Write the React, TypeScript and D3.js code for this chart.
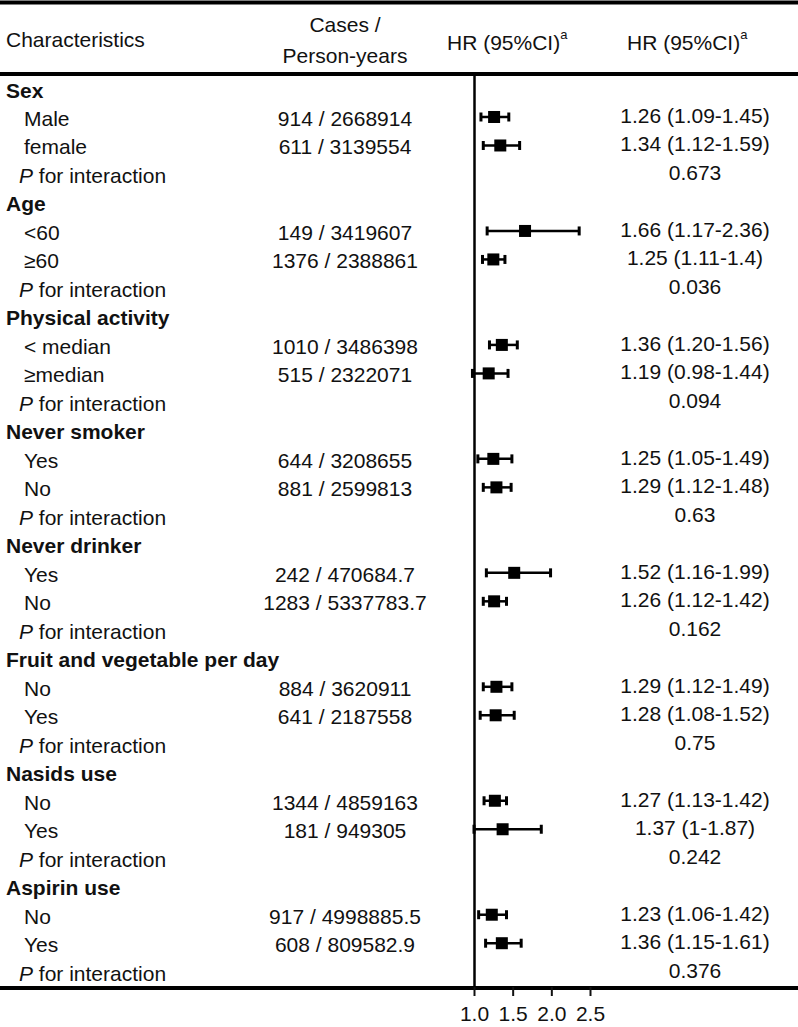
import React, { useEffect, useRef } from 'react';
import * as d3 from 'd3';

// subgroup forest plot data
const groupNames = ['Sex', 'Age', 'Physical activity', 'Never smoker', 'Never drinker',
  'Fruit and vegetable per day', 'Nasids use', 'Aspirin use'];
const subLabels = [['Male', 'female'], ['<60', '≥60'], ['< median', '≥median'], ['Yes', 'No'],
  ['Yes', 'No'], ['No', 'Yes'], ['No', 'Yes'], ['No', 'Yes']];
const casesText = [
  ['914 / 2668914', '611 / 3139554'],
  ['149 / 3419607', '1376 / 2388861'],
  ['1010 / 3486398', '515 / 2322071'],
  ['644 / 3208655', '881 / 2599813'],
  ['242 / 470684.7', '1283 / 5337783.7'],
  ['884 / 3620911', '641 / 2187558'],
  ['1344 / 4859163', '181 / 949305'],
  ['917 / 4998885.5', '608 / 809582.9'],
];
const hrEst = [[1.26, 1.34], [1.66, 1.25], [1.36, 1.19], [1.25, 1.29], [1.52, 1.26], [1.29, 1.28], [1.27, 1.37], [1.23, 1.36]];
const hrLow = [[1.09, 1.12], [1.17, 1.11], [1.20, 0.98], [1.05, 1.12], [1.16, 1.12], [1.12, 1.08], [1.13, 1.0], [1.06, 1.15]];
const hrHigh = [[1.45, 1.59], [2.36, 1.4], [1.56, 1.44], [1.49, 1.48], [1.99, 1.42], [1.49, 1.52], [1.42, 1.87], [1.42, 1.61]];
const hrText = [
  ['1.26 (1.09-1.45)', '1.34 (1.12-1.59)'],
  ['1.66 (1.17-2.36)', '1.25 (1.11-1.4)'],
  ['1.36 (1.20-1.56)', '1.19 (0.98-1.44)'],
  ['1.25 (1.05-1.49)', '1.29 (1.12-1.48)'],
  ['1.52 (1.16-1.99)', '1.26 (1.12-1.42)'],
  ['1.29 (1.12-1.49)', '1.28 (1.08-1.52)'],
  ['1.27 (1.13-1.42)', '1.37 (1-1.87)'],
  ['1.23 (1.06-1.42)', '1.36 (1.15-1.61)'],
];
const pInteraction = ['0.673', '0.036', '0.094', '0.63', '0.162', '0.75', '0.242', '0.376'];
const tickValues = [1.0, 1.5, 2.0, 2.5];

const W = 798, H = 1027;
const FONT = '"Liberation Sans", Arial, sans-serif';
const FS = 21;

export default function App() {
  const axisRef = useRef<SVGGElement>(null);

  const x = d3.scaleLinear().domain([1, 2.5]).range([474, 590]);
  const yRow = d3.scaleLinear().domain([0, 31]).range([90, 973.2]);
  const casesX = 345;
  const hrX = 695;
  const box = 12;
  const cap = 9;
  const bottomY = 988;

  useEffect(() => {
    const g = d3.select(axisRef.current);
    g.selectAll('*').remove();
    const axis = d3.axisBottom(x)
      .tickValues(tickValues)
      .tickFormat(d3.format('.1f'))
      .tickSize(9)
      .tickPadding(10);
    g.call(axis);
    g.select('.domain').remove();
    g.selectAll('line').attr('stroke', '#111').attr('stroke-width', 2);
    g.selectAll('text')
      .attr('fill', '#111')
      .style('font-family', FONT)
      .style('font-size', FS + 'px');
  }, []);

  const rows: JSX.Element[] = [];
  groupNames.forEach((name, gi) => {
    const base = gi * 4;
    rows.push(
      <text key={'g' + gi} x={6} y={yRow(base)} dominantBaseline="central" fontWeight="bold">{name}</text>
    );
    subLabels[gi].forEach((lab, si) => {
      const yy = yRow(base + 1 + si);
      const ym = yy - 1.5;
      rows.push(
        <g key={'s' + gi + '-' + si}>
          <text x={24} y={yy} dominantBaseline="central">{lab}</text>
          <text x={casesX} y={yy} dominantBaseline="central" textAnchor="middle">{casesText[gi][si]}</text>
          <text x={hrX} y={yy - 3} dominantBaseline="central" textAnchor="middle">{hrText[gi][si]}</text>
          <line x1={x(hrLow[gi][si])} x2={x(hrHigh[gi][si])} y1={ym} y2={ym} stroke="#000" strokeWidth={2.5} />
          <line x1={x(hrLow[gi][si])} x2={x(hrLow[gi][si])} y1={ym - cap / 2} y2={ym + cap / 2} stroke="#000" strokeWidth={3} />
          <line x1={x(hrHigh[gi][si])} x2={x(hrHigh[gi][si])} y1={ym - cap / 2} y2={ym + cap / 2} stroke="#000" strokeWidth={3} />
          <rect x={x(hrEst[gi][si]) - box / 2} y={ym - box / 2} width={box} height={box} fill="#000" />
        </g>
      );
    });
    const yp = yRow(base + 3);
    rows.push(
      <g key={'p' + gi}>
        <text x={19} y={yp} dominantBaseline="central">
          <tspan fontStyle="italic">P</tspan> for interaction
        </text>
        <text x={hrX} y={yp - 3} dominantBaseline="central" textAnchor="middle">{pInteraction[gi]}</text>
      </g>
    );
  });

  return (
    <>
      <style>{`body{margin:0}`}</style>
      <svg width={W} height={H} style={{ display: 'block', background: '#fff' }}
        fontFamily={FONT} fontSize={FS} fill="#111">
        {/* header */}
        <line x1={0} x2={W} y1={2.5} y2={2.5} stroke="#000" strokeWidth={4} />
        <text x={6} y={39.5} dominantBaseline="central">Characteristics</text>
        <text x={casesX} y={24} dominantBaseline="central" textAnchor="middle">Cases /</text>
        <text x={casesX} y={55} dominantBaseline="central" textAnchor="middle">Person-years</text>
        <text x={447} y={42} dominantBaseline="central">
          HR (95%CI)<tspan fontSize={13} dy={-8}>a</tspan>
        </text>
        <text x={627} y={42} dominantBaseline="central">
          HR (95%CI)<tspan fontSize={13} dy={-8}>a</tspan>
        </text>
        <line x1={0} x2={W} y1={74} y2={74} stroke="#000" strokeWidth={4} />

        {/* reference line at HR = 1 */}
        <line x1={x(1) + 0.5} x2={x(1) + 0.5} y1={76} y2={bottomY} stroke="#000" strokeWidth={2.5} />

        {rows}

        <line x1={0} x2={W} y1={bottomY} y2={bottomY} stroke="#000" strokeWidth={4} />
        <g ref={axisRef} transform={`translate(0,${bottomY - 1})`} />
      </svg>
    </>
  );
}
